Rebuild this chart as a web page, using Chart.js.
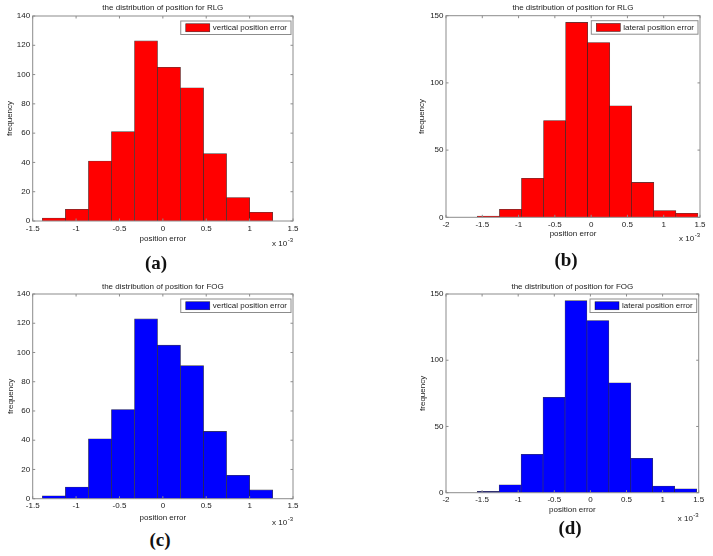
<!DOCTYPE html>
<html>
<head>
<meta charset="utf-8">
<script src="https://cdn.jsdelivr.net/npm/chart.js@4/dist/chart.umd.min.js"></script>
<style>
  body { margin: 0; background: #fff; width: 713px; height: 556px; position: relative; overflow: hidden; }
  canvas { position: absolute; }
  .lbl { position: absolute; font: bold 19px "Liberation Serif", "DejaVu Serif", serif; color: #111; transform: translate(-50%, -50%); }
</style>
</head>
<body>
<canvas id="ca"></canvas>
<canvas id="cb"></canvas>
<canvas id="cc"></canvas>
<canvas id="cd"></canvas>
<div class="lbl" style="left:156px; top:263px">(a)</div>
<div class="lbl" style="left:566px; top:260px">(b)</div>
<div class="lbl" style="left:160px; top:540px">(c)</div>
<div class="lbl" style="left:570px; top:528px">(d)</div>
<script>
// histogramas (error en unidades de 1e-3)
const verticalBinCenters = [-1.256, -0.991, -0.725, -0.460, -0.194, 0.071, 0.337, 0.602, 0.868, 1.133];
const verticalCounts = [2, 8, 41, 61, 123, 105, 91, 46, 16, 6];
const lateralBinCenters = [-1.416, -1.112, -0.808, -0.504, -0.200, 0.104, 0.408, 0.712, 1.016, 1.320];
const lateralCounts = [1, 6, 29, 72, 145, 130, 83, 26, 5, 3];

// ticks de los ejes
const verticalXTicks = [-1.5, -1, -0.5, 0, 0.5, 1, 1.5];
const verticalYTicks = [0, 20, 40, 60, 80, 100, 120, 140];
const lateralXTicks = [-2, -1.5, -1, -0.5, 0, 0.5, 1, 1.5];
const lateralYTicks = [0, 50, 100, 150];

const FONT = '"Liberation Sans", Arial, sans-serif';
Chart.defaults.font.family = FONT;
Chart.defaults.font.size = 8;
Chart.defaults.color = '#1a1a1a';

// paneles: posición del canvas y del área de ejes (coordenadas de página)
const panels = [
  { id: 'ca', left: 0, top: 0, w: 330, h: 256, plot: [32.7, 16, 293, 221], titleY: 7.3, xTitleY: 239, yTitleX: 10, expY: 243.5,
    color: '#ff0000', title: 'the distribution of position for RLG', label: 'vertical position error',
    centers: verticalBinCenters, counts: verticalCounts, xTicks: verticalXTicks, yTicks: verticalYTicks },
  { id: 'cb', left: 360, top: 0, w: 353, h: 256, plot: [446, 15.7, 700, 217.3], titleY: 7.3, xTitleY: 234, yTitleX: 422, expY: 238.5,
    color: '#ff0000', title: 'the distribution of position for RLG', label: 'lateral position error',
    centers: lateralBinCenters, counts: lateralCounts, xTicks: lateralXTicks, yTicks: lateralYTicks },
  { id: 'cc', left: 0, top: 270, w: 330, h: 256, plot: [32.7, 294, 293, 498.7], titleY: 286.7, xTitleY: 518, yTitleX: 11, expY: 523,
    color: '#0000ff', title: 'the distribution of position for FOG', label: 'vertical position error',
    centers: verticalBinCenters, counts: verticalCounts, xTicks: verticalXTicks, yTicks: verticalYTicks },
  { id: 'cd', left: 360, top: 270, w: 353, h: 256, plot: [446, 294, 698.7, 492.7], titleY: 286.7, xTitleY: 510, yTitleX: 423, expY: 519,
    color: '#0000ff', title: 'the distribution of position for FOG', label: 'lateral position error',
    centers: lateralBinCenters, counts: lateralCounts, xTicks: lateralXTicks, yTicks: lateralYTicks }
];

// marco, ticks hacia dentro, título, leyenda y "x 10^-3" al estilo MATLAB
const matlabAxes = {
  id: 'matlabAxes',
  afterDatasetsDraw(chart, args, o) {
    const { ctx, chartArea: a, scales: { x, y } } = chart;
    ctx.save();
    ctx.strokeStyle = '#8c8c8c';
    ctx.lineWidth = 1;
    ctx.beginPath();
    x.ticks.forEach(t => {
      const px = x.getPixelForValue(t.value);
      ctx.moveTo(px, a.bottom); ctx.lineTo(px, a.bottom - 2.5);
      ctx.moveTo(px, a.top); ctx.lineTo(px, a.top + 2.5);
    });
    y.ticks.forEach(t => {
      const py = y.getPixelForValue(t.value);
      ctx.moveTo(a.left, py); ctx.lineTo(a.left + 2.5, py);
      ctx.moveTo(a.right, py); ctx.lineTo(a.right - 2.5, py);
    });
    ctx.stroke();
    ctx.strokeRect(a.left, a.top, a.right - a.left, a.bottom - a.top);

    ctx.font = '8px ' + FONT;
    ctx.fillStyle = '#1a1a1a';
    ctx.textBaseline = 'middle';
    ctx.textAlign = 'center';
    ctx.fillText(o.title, (a.left + a.right) / 2, o.titleY);

    // exponente
    const base = 'x 10', sup = '-3';
    const bw = ctx.measureText(base).width;
    ctx.font = '6px ' + FONT;
    const sw = ctx.measureText(sup).width;
    const ex = a.right - bw - sw - 0.5;
    ctx.textAlign = 'left';
    ctx.fillText(sup, ex + bw + 0.5, o.expY - 3.5);
    ctx.font = '8px ' + FONT;
    ctx.fillText(base, ex, o.expY);

    // leyenda
    const ds = chart.data.datasets[0];
    const tw = ctx.measureText(ds.label).width;
    const lw = 5 + 24 + 3 + tw + 4, lh = 13.5;
    const lx = a.right - 2 - lw, ly = a.top + 5;
    ctx.fillStyle = '#fff';
    ctx.fillRect(lx, ly, lw, lh);
    ctx.strokeStyle = '#8c8c8c';
    ctx.strokeRect(lx, ly, lw, lh);
    ctx.fillStyle = ds.backgroundColor;
    ctx.fillRect(lx + 5, ly + (lh - 8) / 2, 24, 8);
    ctx.strokeStyle = 'rgba(0,0,0,0.7)';
    ctx.lineWidth = 0.6;
    ctx.strokeRect(lx + 5, ly + (lh - 8) / 2, 24, 8);
    ctx.fillStyle = '#1a1a1a';
    ctx.fillText(ds.label, lx + 32, ly + lh / 2);
    ctx.restore();
  }
};

function createPanel(p) {
  const cv = document.getElementById(p.id);
  cv.width = p.w; cv.height = p.h;
  cv.style.left = p.left + 'px'; cv.style.top = p.top + 'px';
  cv.style.width = p.w + 'px'; cv.style.height = p.h + 'px';

  const [pl, pt, pr, pb] = p.plot;
  const yAxisW = pl - (p.yTitleX - 4.8);
  const xAxisH = (p.xTitleY + 4.8) - pb;
  const xs = p.xTicks, ys = p.yTicks;

  new Chart(cv.getContext('2d'), {
    type: 'bar',
    data: {
      datasets: [{
        label: p.label,
        data: p.centers.map((c, i) => ({ x: c, y: p.counts[i] })),
        backgroundColor: p.color,
        borderColor: 'rgba(0,0,0,0.75)',
        borderWidth: 0.6,
        barPercentage: 1,
        categoryPercentage: 1
      }]
    },
    options: {
      responsive: false,
      animation: false,
      events: [],
      layout: {
        padding: {
          left: p.yTitleX - 4.8 - p.left,
          top: pt - p.top,
          right: p.left + p.w - pr,
          bottom: p.top + p.h - (p.xTitleY + 4.8)
        }
      },
      plugins: {
        legend: { display: false },
        title: { display: false },
        tooltip: { enabled: false },
        matlabAxes: { title: p.title, titleY: p.titleY - p.top, expY: p.expY - p.top }
      },
      scales: {
        x: {
          type: 'linear',
          offset: false,
          min: xs[0], max: xs[xs.length - 1],
          grid: { display: false, drawTicks: false, offset: false },
          border: { display: false },
          afterBuildTicks: s => { s.ticks = xs.map(v => ({ value: v })); },
          afterFit: s => { s.height = xAxisH; },
          ticks: { padding: 2.5, maxRotation: 0, autoSkip: false, callback: v => String(v) },
          title: { display: true, text: 'position error', padding: 0, font: { size: 8 } }
        },
        y: {
          min: ys[0], max: ys[ys.length - 1],
          grid: { display: false, drawTicks: false },
          border: { display: false },
          afterBuildTicks: s => { s.ticks = ys.map(v => ({ value: v })); },
          afterFit: s => { s.width = yAxisW; },
          ticks: { padding: 2.5, autoSkip: false, callback: v => String(v) },
          title: { display: true, text: 'frequency', padding: 0, font: { size: 8 } }
        }
      }
    },
    plugins: [matlabAxes]
  });
}

document.addEventListener('DOMContentLoaded', function() {
  panels.forEach(createPanel);
});
</script>
</body>
</html>
